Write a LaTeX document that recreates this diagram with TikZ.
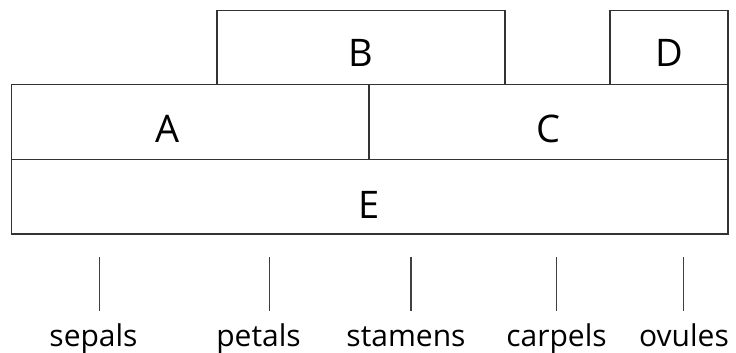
\documentclass[tikz,border=0pt]{standalone}
\usepackage{fontspec}
\setmainfont{Open Sans}
\begin{document}
\begin{tikzpicture}[x=1pt,y=-1pt,
  box/.style={draw=black!80,line width=1.3pt,inner sep=0pt,outer sep=0pt},
  lettr/.style={font=\fontsize{38}{40}\selectfont,anchor=base,inner sep=0pt},
  lbl/.style={font=\fontsize{30}{32}\selectfont,anchor=base,inner sep=0pt},
  tick/.style={draw=black!75,line width=1.2pt}]
\useasboundingbox (0,0) rectangle (736,353);
\draw[box] (217,10.7) rectangle (505,84.5);
\draw[box] (610,10.7) rectangle (728,84.5);
\draw[box] (11.7,84.5) rectangle (369,159.5);
\draw[box] (369,84.5) rectangle (728,159.5);
\draw[box] (11.7,159.5) rectangle (728,234);
\node[lettr] (B) at (361,66.7) {B};
\node[lettr] (D) at (669,66.7) {D};
\node[lettr] (A) at (168,142) {A};
\node[lettr] (C) at (548,142) {C};
\node[lettr] (E) at (369,218) {E};
\foreach \n/\x/\lx/\t in {1/99.7/93.5/sepals,2/269.3/258.5/petals,3/411/406/stamens,4/556.3/556.5/carpels,5/683.3/684/ovules}{
  \coordinate (t\n a) at (\x,257);
  \coordinate (t\n b) at (\x,311);
  \draw[tick] (t\n a) -- (t\n b);
  \node[lbl] (l\n) at (\lx,346.7) {\t};
}
\end{tikzpicture}
\end{document}
